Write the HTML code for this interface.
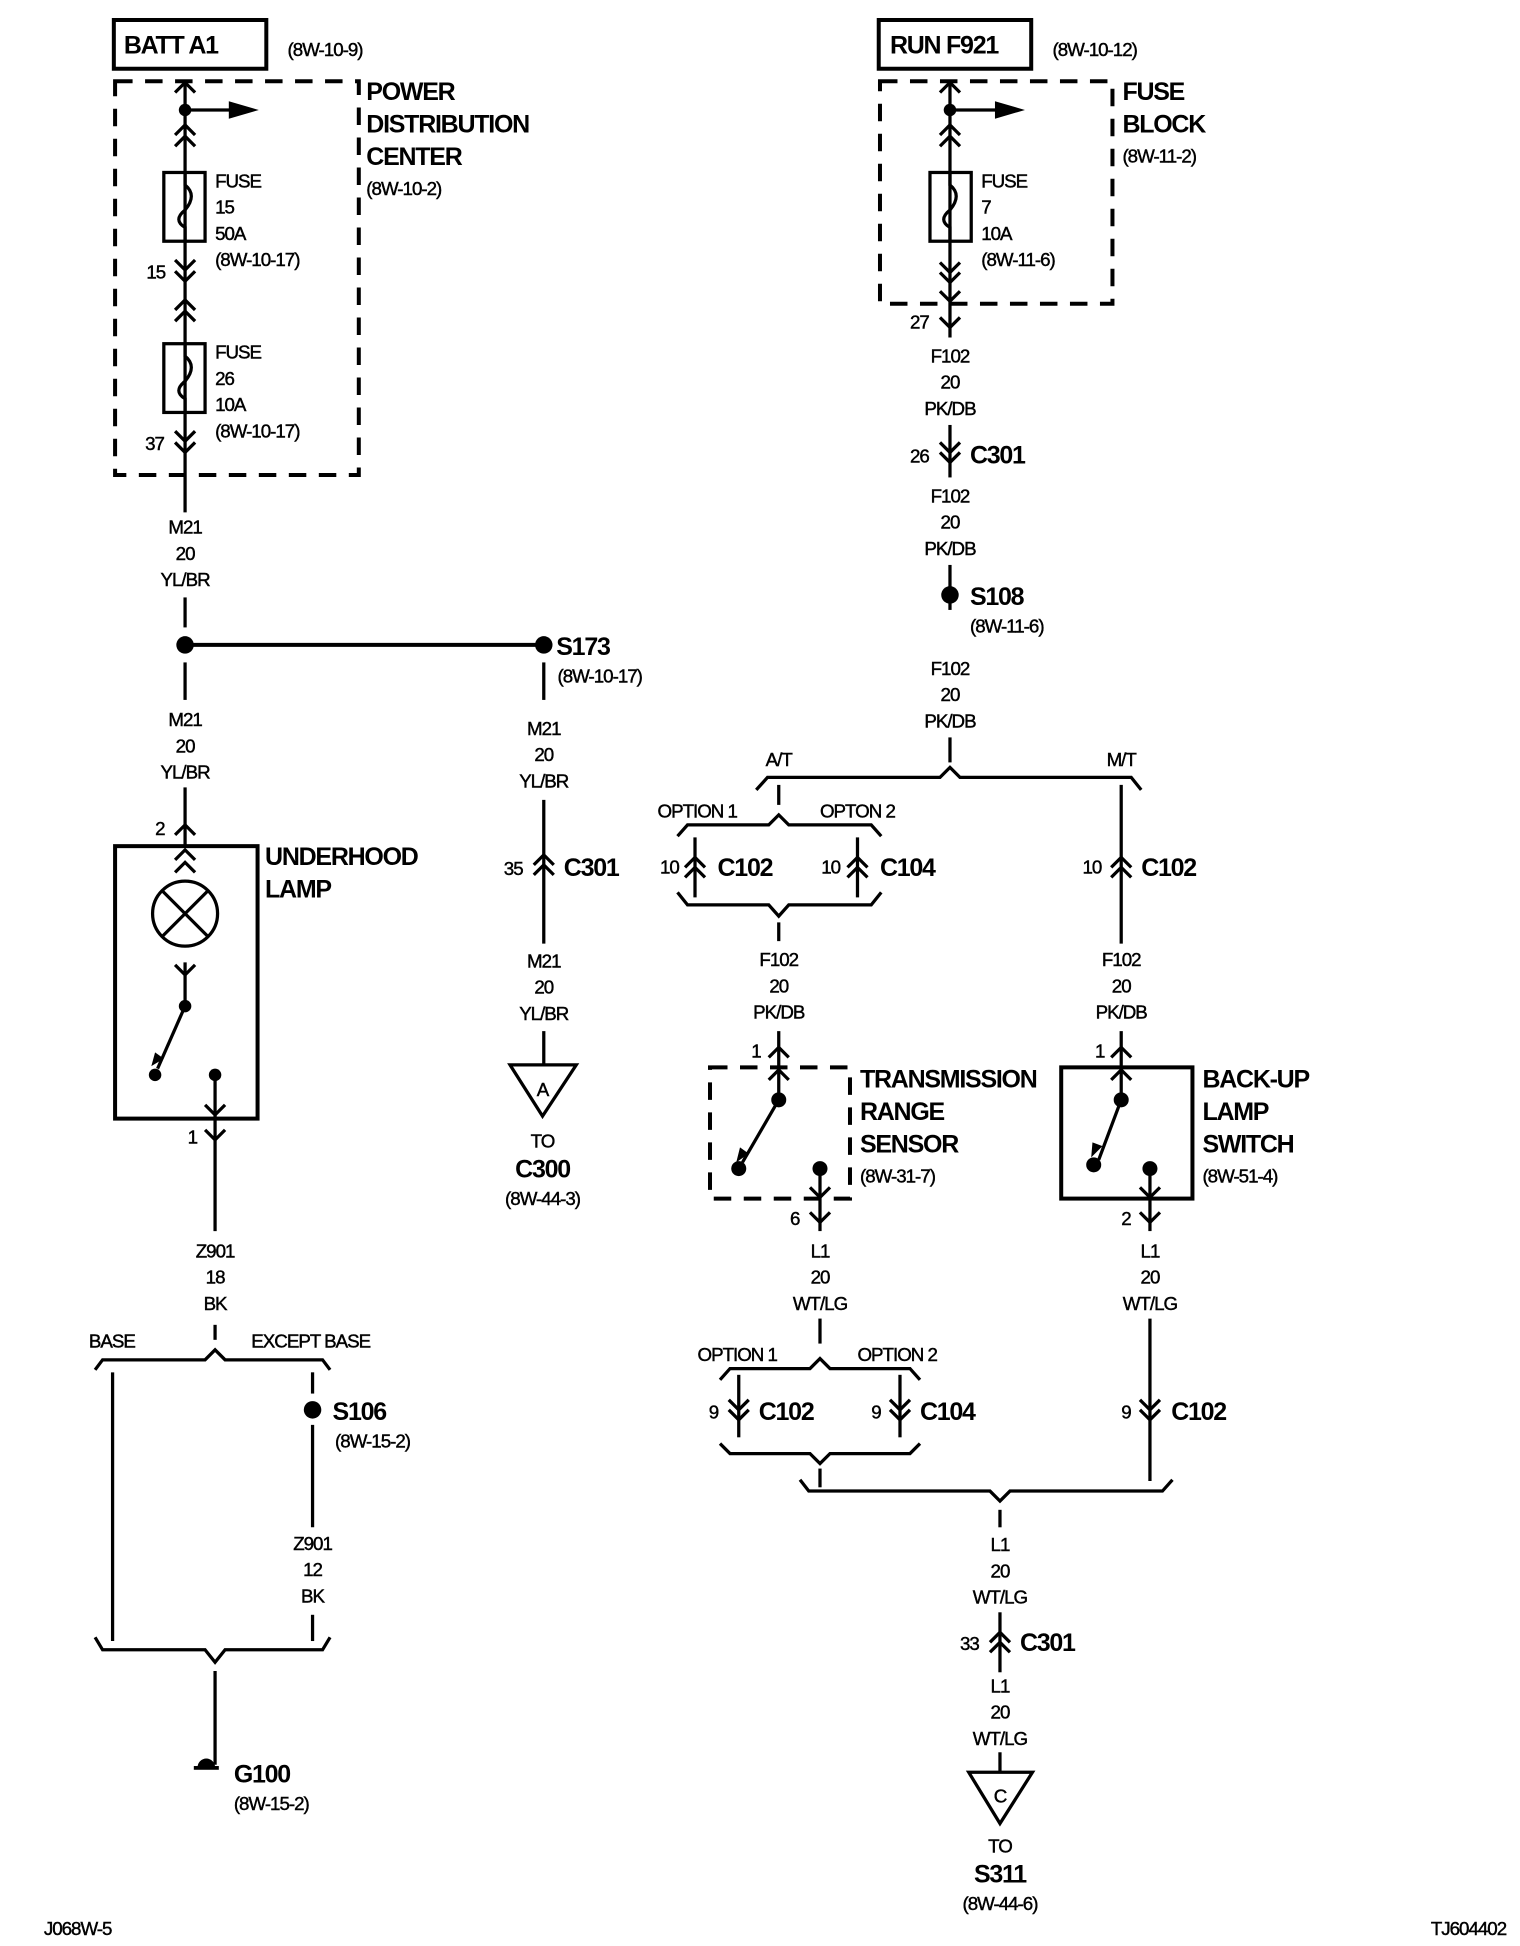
<!DOCTYPE html>
<html><head><meta charset="utf-8"><style>
html,body{margin:0;padding:0;background:#fff}
svg{display:block}
text{font-family:"Liberation Sans",Arial,sans-serif;fill:#000}
.s{font-size:15px;letter-spacing:-0.8px;stroke:#000;stroke-width:0.35px}
.b{font-size:20px;font-weight:bold;letter-spacing:-1px}
.m{text-anchor:middle}
</style></head><body>
<svg width="1520" height="1946" viewBox="0 0 1216 1557" xmlns="http://www.w3.org/2000/svg">
<defs>
<path id="u" d="M-8,8 L0,0 L8,8" fill="none" stroke="#000" stroke-width="2.6"/>
<path id="d" d="M-8,-8 L0,0 L8,-8" fill="none" stroke="#000" stroke-width="2.6"/>
</defs>
<g stroke="#000" stroke-width="2.6" fill="none">
<rect x="91" y="16" width="122" height="39" stroke-width="3.2"/>
<rect x="92" y="65" width="195" height="315" stroke-width="3.2" stroke-dasharray="14,10"/>
<line x1="148" y1="65" x2="148" y2="410"/>
<line x1="148" y1="88" x2="185" y2="88"/>
<line x1="148" y1="478" x2="148" y2="502"/>
<line x1="148" y1="516" x2="435" y2="516" stroke-width="3.2"/>
<line x1="148" y1="530" x2="148" y2="560"/>
<line x1="148" y1="630" x2="148" y2="676"/>
<rect x="131" y="138" width="33" height="55"/>
<path d="M148,138 v10 q10,8 0,20 v0 q-10,8 0,14 v11"/>
<rect x="131" y="275" width="33" height="55"/>
<path d="M148,275 v10 q10,8 0,20 q-10,8 0,14 v11"/>
<rect x="92" y="677" width="114" height="218" stroke-width="3.2"/>
<circle cx="148" cy="731" r="26"/>
<line x1="130" y1="713" x2="166" y2="749"/><line x1="166" y1="713" x2="130" y2="749"/>
<line x1="148" y1="770" x2="148" y2="805"/>
<line x1="148" y1="805" x2="126" y2="855"/>
<line x1="172" y1="860" x2="172" y2="985"/>
<line x1="172" y1="1060" x2="172" y2="1072"/>
<path d="M76,1096 L82,1088 L164,1088 L172,1080 L180,1088 L258,1088 L264,1096"/>
<line x1="90" y1="1098" x2="90" y2="1313"/>
<line x1="250" y1="1098" x2="250" y2="1115"/>
<line x1="250" y1="1140" x2="250" y2="1222"/>
<line x1="250" y1="1292" x2="250" y2="1313"/>
<path d="M76,1310 L82,1320 L164,1320 L172,1330 L180,1320 L258,1320 L264,1310"/>
<line x1="172" y1="1337" x2="172" y2="1412"/>
<line x1="435" y1="530" x2="435" y2="560"/>
<line x1="435" y1="640" x2="435" y2="755"/>
<line x1="435" y1="825" x2="435" y2="852"/>
<path d="M408,852 L461,852 L434,893 Z"/>
<rect x="703" y="16" width="122" height="39" stroke-width="3.2"/>
<rect x="704" y="65" width="186" height="178" stroke-width="3.2" stroke-dasharray="14,10"/>
<line x1="760" y1="65" x2="760" y2="270"/>
<line x1="760" y1="88" x2="798" y2="88"/>
<rect x="744" y="138" width="33" height="55"/>
<path d="M760,138 v10 q10,8 0,20 q-10,8 0,14 v11"/>
<line x1="760" y1="340" x2="760" y2="382"/>
<line x1="760" y1="452" x2="760" y2="488"/>
<line x1="760" y1="590" x2="760" y2="610"/>
<path d="M605,632 L614,622 L752,622 L760,614 L768,622 L905,622 L913,632"/>
<line x1="623" y1="628" x2="623" y2="644"/>
<path d="M542,669 L550,660 L615,660 L623,652 L631,660 L697,660 L705,669"/>
<line x1="556" y1="670" x2="556" y2="718"/>
<line x1="686" y1="670" x2="686" y2="718"/>
<path d="M542,714 L550,724 L615,724 L623,733 L631,724 L697,724 L705,714"/>
<line x1="623" y1="738" x2="623" y2="753"/>
<line x1="897" y1="628" x2="897" y2="755"/>
<line x1="623" y1="825" x2="623" y2="880"/>
<line x1="897" y1="825" x2="897" y2="880"/>
<rect x="568" y="854" width="112" height="105" stroke-width="3.2" stroke-dasharray="14,10"/>
<rect x="849" y="854" width="105" height="105" stroke-width="3.2"/>
<line x1="623" y1="880" x2="594" y2="930"/>
<line x1="656" y1="935" x2="656" y2="985"/>
<line x1="897" y1="880" x2="879" y2="928"/>
<line x1="920" y1="935" x2="920" y2="985"/>
<line x1="656" y1="1055" x2="656" y2="1075"/>
<path d="M576,1104 L584,1095 L648,1095 L656,1087 L664,1095 L728,1095 L736,1104"/>
<line x1="591" y1="1100" x2="591" y2="1150"/>
<line x1="720" y1="1100" x2="720" y2="1150"/>
<path d="M576,1155 L584,1163 L648,1163 L656,1171 L664,1163 L728,1163 L736,1155"/>
<line x1="656" y1="1175" x2="656" y2="1190"/>
<line x1="920" y1="1055" x2="920" y2="1185"/>
<path d="M640,1184 L647,1193 L792,1193 L800,1201 L808,1193 L930,1193 L938,1184"/>
<line x1="800" y1="1208" x2="800" y2="1222"/>
<line x1="800" y1="1290" x2="800" y2="1338"/>
<line x1="800" y1="1402" x2="800" y2="1418"/>
<path d="M775,1418 L826,1418 L800,1459 Z"/>
</g>
<g fill="#000">
<path d="M183,81 L207,88 L183,95 Z"/>
<path d="M796,81 L820,88 L796,95 Z"/>
<circle cx="148" cy="88" r="5"/><circle cx="760" cy="88" r="5"/>
<circle cx="148" cy="516" r="7"/><circle cx="435" cy="516" r="7"/>
<circle cx="760" cy="476" r="7"/><circle cx="250" cy="1128" r="7"/>
<circle cx="148" cy="805" r="5"/><circle cx="124" cy="860" r="5"/><circle cx="172" cy="860" r="5"/>
<circle cx="623" cy="880" r="6"/><circle cx="591" cy="935" r="6"/><circle cx="656" cy="935" r="6"/>
<circle cx="897" cy="880" r="6"/><circle cx="875" cy="932" r="6"/><circle cx="920" cy="935" r="6"/>
<path d="M121,853 L124,842 L131,847 Z"/>
<path d="M589,930 L592,918 L599,923 Z"/>
<path d="M873,926 L874,914 L882,917 Z"/>
<path d="M158,1414 a7,7 0 0 1 14,0 Z"/>
<rect x="155" y="1413" width="20" height="3"/>
</g>
<use href="#u" x="148" y="66"/>
<use href="#u" x="148" y="100"/><use href="#u" x="148" y="109"/>
<use href="#d" x="148" y="216"/><use href="#d" x="148" y="225"/>
<use href="#u" x="148" y="240"/><use href="#u" x="148" y="249"/>
<use href="#d" x="148" y="353"/><use href="#d" x="148" y="362"/>
<use href="#u" x="148" y="660"/>
<use href="#u" x="148" y="680"/><use href="#u" x="148" y="690"/>
<use href="#d" x="148" y="780"/>
<use href="#d" x="172" y="892"/><use href="#d" x="172" y="912"/>
<use href="#u" x="435" y="684"/><use href="#u" x="435" y="692"/>
<use href="#u" x="760" y="66"/>
<use href="#u" x="760" y="100"/><use href="#u" x="760" y="109"/>
<use href="#d" x="760" y="218"/><use href="#d" x="760" y="226"/><use href="#d" x="760" y="241"/>
<use href="#d" x="760" y="262"/>
<use href="#d" x="760" y="362"/><use href="#d" x="760" y="370"/>
<use href="#u" x="556" y="686"/><use href="#u" x="556" y="694"/>
<use href="#u" x="686" y="686"/><use href="#u" x="686" y="694"/>
<use href="#u" x="897" y="686"/><use href="#u" x="897" y="694"/>
<use href="#u" x="623" y="838"/><use href="#u" x="623" y="856"/>
<use href="#u" x="897" y="838"/><use href="#u" x="897" y="856"/>
<use href="#d" x="656" y="958"/><use href="#d" x="656" y="978"/>
<use href="#d" x="920" y="958"/><use href="#d" x="920" y="978"/>
<use href="#d" x="591" y="1128"/><use href="#d" x="591" y="1136"/>
<use href="#d" x="720" y="1128"/><use href="#d" x="720" y="1136"/>
<use href="#d" x="920" y="1128"/><use href="#d" x="920" y="1136"/>
<use href="#u" x="800" y="1306"/><use href="#u" x="800" y="1314"/>
<text class="b" x="99" y="43">BATT A1</text>
<text class="s" x="230" y="45">(8W-10-9)</text>
<text class="b" x="293" y="80">POWER</text>
<text class="b" x="293" y="106">DISTRIBUTION</text>
<text class="b" x="293" y="132">CENTER</text>
<text class="s" x="293" y="156">(8W-10-2)</text>
<text class="s" x="172" y="150">FUSE</text><text class="s" x="172" y="171">15</text><text class="s" x="172" y="192">50A</text><text class="s" x="172" y="213">(8W-10-17)</text>
<text class="s" x="117" y="223">15</text>
<text class="s" x="172" y="287">FUSE</text><text class="s" x="172" y="308">26</text><text class="s" x="172" y="329">10A</text><text class="s" x="172" y="350">(8W-10-17)</text>
<text class="s" x="116" y="360">37</text>
<text class="s m" x="148" y="427">M21</text><text class="s m" x="148" y="448">20</text><text class="s m" x="148" y="469">YL/BR</text>
<text class="s m" x="148" y="581">M21</text><text class="s m" x="148" y="602">20</text><text class="s m" x="148" y="623">YL/BR</text>
<text class="s" x="124" y="668">2</text>
<text class="b" x="212" y="692">UNDERHOOD</text><text class="b" x="212" y="718">LAMP</text>
<text class="s" x="150" y="915">1</text>
<text class="s m" x="172" y="1006">Z901</text><text class="s m" x="172" y="1027">18</text><text class="s m" x="172" y="1048">BK</text>
<text class="s" x="71" y="1078">BASE</text><text class="s" x="201" y="1078">EXCEPT BASE</text>
<text class="b" x="266" y="1136">S106</text><text class="s" x="268" y="1158">(8W-15-2)</text>
<text class="s m" x="250" y="1240">Z901</text><text class="s m" x="250" y="1261">12</text><text class="s m" x="250" y="1282">BK</text>
<text class="b" x="187" y="1426">G100</text><text class="s" x="187" y="1448">(8W-15-2)</text>
<text class="b" x="445" y="524">S173</text><text class="s" x="446" y="546">(8W-10-17)</text>
<text class="s m" x="435" y="588">M21</text><text class="s m" x="435" y="609">20</text><text class="s m" x="435" y="630">YL/BR</text>
<text class="s" x="403" y="700">35</text><text class="b" x="451" y="701">C301</text>
<text class="s m" x="435" y="774">M21</text><text class="s m" x="435" y="795">20</text><text class="s m" x="435" y="816">YL/BR</text>
<text class="s m" x="434" y="877">A</text>
<text class="s m" x="434" y="918">TO</text>
<text class="b m" x="434" y="942">C300</text>
<text class="s m" x="434" y="964">(8W-44-3)</text>
<text class="b" x="712" y="43">RUN F921</text>
<text class="s" x="842" y="45">(8W-10-12)</text>
<text class="b" x="898" y="80">FUSE</text><text class="b" x="898" y="106">BLOCK</text><text class="s" x="898" y="130">(8W-11-2)</text>
<text class="s" x="785" y="150">FUSE</text><text class="s" x="785" y="171">7</text><text class="s" x="785" y="192">10A</text><text class="s" x="785" y="213">(8W-11-6)</text>
<text class="s" x="728" y="263">27</text>
<text class="s m" x="760" y="290">F102</text><text class="s m" x="760" y="311">20</text><text class="s m" x="760" y="332">PK/DB</text>
<text class="s" x="728" y="370">26</text><text class="b" x="776" y="371">C301</text>
<text class="s m" x="760" y="402">F102</text><text class="s m" x="760" y="423">20</text><text class="s m" x="760" y="444">PK/DB</text>
<text class="b" x="776" y="484">S108</text><text class="s" x="776" y="506">(8W-11-6)</text>
<text class="s m" x="760" y="540">F102</text><text class="s m" x="760" y="561">20</text><text class="s m" x="760" y="582">PK/DB</text>
<text class="s m" x="623" y="613">A/T</text><text class="s m" x="897" y="613">M/T</text>
<text class="s" x="526" y="654">OPTION 1</text><text class="s" x="656" y="654">OPTON 2</text>
<text class="s" x="528" y="699">10</text><text class="b" x="574" y="701">C102</text>
<text class="s" x="657" y="699">10</text><text class="b" x="704" y="701">C104</text>
<text class="s" x="866" y="699">10</text><text class="b" x="913" y="701">C102</text>
<text class="s m" x="623" y="773">F102</text><text class="s m" x="623" y="794">20</text><text class="s m" x="623" y="815">PK/DB</text>
<text class="s m" x="897" y="773">F102</text><text class="s m" x="897" y="794">20</text><text class="s m" x="897" y="815">PK/DB</text>
<text class="s" x="601" y="846">1</text><text class="s" x="876" y="846">1</text>
<text class="b" x="688" y="870">TRANSMISSION</text><text class="b" x="688" y="896">RANGE</text><text class="b" x="688" y="922">SENSOR</text><text class="s" x="688" y="946">(8W-31-7)</text>
<text class="b" x="962" y="870">BACK-UP</text><text class="b" x="962" y="896">LAMP</text><text class="b" x="962" y="922">SWITCH</text><text class="s" x="962" y="946">(8W-51-4)</text>
<text class="s" x="632" y="980">6</text><text class="s" x="897" y="980">2</text>
<text class="s m" x="656" y="1006">L1</text><text class="s m" x="656" y="1027">20</text><text class="s m" x="656" y="1048">WT/LG</text>
<text class="s m" x="920" y="1006">L1</text><text class="s m" x="920" y="1027">20</text><text class="s m" x="920" y="1048">WT/LG</text>
<text class="s" x="558" y="1089">OPTION 1</text><text class="s" x="686" y="1089">OPTION 2</text>
<text class="s" x="567" y="1135">9</text><text class="b" x="607" y="1136">C102</text>
<text class="s" x="697" y="1135">9</text><text class="b" x="736" y="1136">C104</text>
<text class="s" x="897" y="1135">9</text><text class="b" x="937" y="1136">C102</text>
<text class="s m" x="800" y="1241">L1</text><text class="s m" x="800" y="1262">20</text><text class="s m" x="800" y="1283">WT/LG</text>
<text class="s" x="768" y="1320">33</text><text class="b" x="816" y="1321">C301</text>
<text class="s m" x="800" y="1354">L1</text><text class="s m" x="800" y="1375">20</text><text class="s m" x="800" y="1396">WT/LG</text>
<text class="s m" x="800" y="1442">C</text>
<text class="s m" x="800" y="1482">TO</text>
<text class="b m" x="800" y="1506">S311</text>
<text class="s m" x="800" y="1528">(8W-44-6)</text>
<text class="s" x="35" y="1548">J068W-5</text>
<text class="s" x="1205" y="1548" text-anchor="end">TJ604402</text>
</svg>
</body></html>
